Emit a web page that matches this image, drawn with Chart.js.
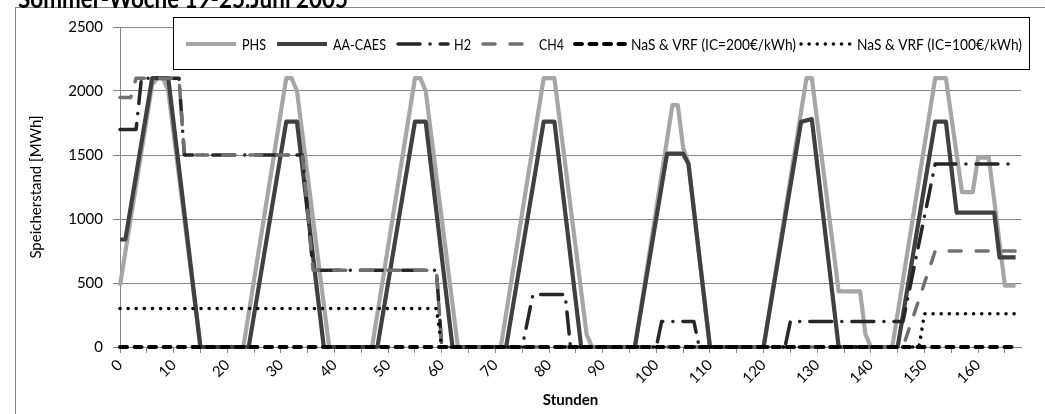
<!DOCTYPE html>
<html>
<head>
<meta charset="utf-8">
<script src="https://cdn.jsdelivr.net/npm/chart.js@4.4.1/dist/chart.umd.min.js"></script>
<style>
  html, body { margin: 0; padding: 0; background: #fff; overflow: hidden; }
</style>
</head>
<body>
<canvas id="chart" width="1045" height="414"></canvas>
<script>
// Speicherstand [MWh] je Technologie, als Stützstellen (Stunde -> Wert)
const seriesNames = ["PHS", "AA-CAES", "H2", "CH4", "NaS & VRF (IC=200€/kWh)", "NaS & VRF (IC=100€/kWh)"];

const phsHours  = [0, 6, 7, 8, 9, 15, 23, 31, 32, 33, 39, 47, 55, 56, 57, 63, 71, 79, 81, 87, 88, 96, 103, 104, 105, 106, 110, 120, 128, 129, 134, 138, 139, 140, 144, 152, 154, 157, 159, 160, 162, 165, 167];
const phsValues = [480, 2050, 2100, 2100, 2000, 0, 0, 2100, 2100, 2000, 0, 0, 2100, 2100, 2000, 0, 0, 2100, 2100, 100, 0, 0, 1890, 1890, 1560, 1430, 0, 0, 2100, 2100, 435, 435, 100, 0, 0, 2100, 2100, 1210, 1210, 1480, 1480, 480, 480];

const caesHours  = [0, 1, 6, 9, 15, 24, 31, 33, 38, 48, 55, 57, 62, 72, 79, 81, 86, 96, 102, 105, 106, 110, 120, 127, 129, 134, 145, 152, 154, 156, 163, 164, 167];
const caesValues = [840, 840, 2100, 2100, 0, 0, 1760, 1760, 0, 0, 1760, 1760, 0, 0, 1760, 1760, 0, 0, 1510, 1510, 1430, 0, 0, 1760, 1780, 0, 0, 1760, 1760, 1050, 1050, 700, 700];

const h2Hours  = [0, 3, 4, 11, 12, 34, 36, 59, 60, 75, 77, 83, 84, 100, 101, 107, 108, 124, 125, 146, 152, 167];
const h2Values = [1700, 1700, 2100, 2100, 1500, 1500, 600, 600, 0, 0, 410, 410, 0, 0, 200, 200, 0, 0, 200, 200, 1430, 1430];

const ch4Hours  = [0, 2, 3, 11, 12, 34, 36, 59, 60, 146, 152, 167];
const ch4Values = [1950, 1950, 2100, 2100, 1500, 1500, 600, 600, 0, 0, 750, 750];

const nas200Hours  = [0, 167];
const nas200Values = [0, 0];

const nas100Hours  = [0, 59, 60, 149, 150, 167];
const nas100Values = [300, 300, 0, 0, 260, 260];

const yTicks = [0, 500, 1000, 1500, 2000, 2500];

const toPoints = (hours, values) => hours.map((h, i) => ({ x: h, y: values[i] }));

const lineBase = { pointRadius: 0, tension: 0, fill: false, borderJoinStyle: "round", clip: 8 };

const datasets = [
  { ...lineBase, label: seriesNames[0], data: toPoints(phsHours, phsValues),
    borderColor: "#a6a6a6", borderWidth: 4.2, order: 6 },
  { ...lineBase, label: seriesNames[1], data: toPoints(caesHours, caesValues),
    borderColor: "#404040", borderWidth: 4.2, order: 5 },
  { ...lineBase, label: seriesNames[2], data: toPoints(h2Hours, h2Values),
    borderColor: "#262626", borderWidth: 3.5, borderCapStyle: "round", borderDash: [22, 10, 0.1, 10], order: 4 },
  { ...lineBase, label: seriesNames[3], data: toPoints(ch4Hours, ch4Values),
    borderColor: "#707070", borderWidth: 3.5, borderCapStyle: "round", borderDash: [12, 15], order: 3 },
  { ...lineBase, label: seriesNames[4], data: toPoints(nas200Hours, nas200Values),
    borderColor: "#000000", borderWidth: 4, borderCapStyle: "round", borderDash: [7, 7.5], order: 2 },
  { ...lineBase, label: seriesNames[5], data: toPoints(nas100Hours, nas100Values),
    borderColor: "#000000", borderWidth: 3.5, borderCapStyle: "round", borderDash: [0.1, 8], order: 1 },
];

// white page, outer frame and the (partly cut) heading
const frame = {
  id: "frame",
  beforeDraw(chart) {
    const { ctx } = chart;
    ctx.save();
    ctx.fillStyle = "#fff";
    ctx.fillRect(0, 0, chart.width, chart.height);
    ctx.strokeStyle = "#868686";
    ctx.lineWidth = 1;
    ctx.strokeRect(15.5, 7.5, 1200, 600);
    ctx.fillStyle = "#000";
    ctx.font = "bold 27px Lato";
    ctx.textBaseline = "alphabetic";
    ctx.fillText("Sommer-Woche 19-25.Juni 2005", 18, 8, 330);
    ctx.restore();
  },
};

// boxed legend inside the plot, one row
const legendBox = {
  id: "legendBox",
  afterDatasetsDraw(chart, args, opts) {
    const { ctx } = chart;
    ctx.save();
    ctx.fillStyle = "#fff";
    ctx.fillRect(opts.left, opts.top, opts.right - opts.left, opts.bottom - opts.top);
    ctx.strokeStyle = "#000";
    ctx.lineWidth = 1;
    ctx.strokeRect(opts.left + 0.5, opts.top + 0.5, opts.right - opts.left, opts.bottom - opts.top);

    chart.data.datasets.forEach((ds, i) => {
      const x = opts.x[i];
      const w = opts.sample;
      ctx.save();
      ctx.strokeStyle = ds.borderColor;
      ctx.lineWidth = ds.borderWidth;
      ctx.lineCap = ds.borderCapStyle || "butt";
      ctx.setLineDash(ds.borderDash || []);
      ctx.beginPath();
      ctx.moveTo(x, opts.y);
      ctx.lineTo(x + w, opts.y);
      ctx.stroke();
      ctx.restore();

      ctx.fillStyle = "#000";
      ctx.font = opts.font;
      ctx.textBaseline = "middle";
      ctx.fillText(ds.label, x + w + 6, opts.y + 1, opts.textWidth[i]);
    });
    ctx.restore();
  },
};

const ctx = document.getElementById("chart");

new Chart(ctx, {
  type: "line",
  data: { datasets },
  options: {
    responsive: false,
    animation: false,
    devicePixelRatio: 1,
    layout: {
      padding: { left: 0, right: 24, top: 27, bottom: 0 },
    },
    plugins: {
      legend: { display: false },
      tooltip: { enabled: false },
      legendBox: {
        left: 173, right: 1029, top: 17, bottom: 69, y: 44,
        x: [186, 277, 398, 483, 575, 801],
        sample: 50,
        textWidth: [24, 53, 17, 25, 165, 165],
        font: "15px Lato",
      },
    },
    scales: {
      x: {
        type: "linear",
        min: 0,
        max: 168,
        afterFit(scale) { scale.height = 67; },
        border: { color: "#868686" },
        grid: {
          drawOnChartArea: false,
          color: "#868686",
          tickLength: 6,
        },
        ticks: {
          stepSize: 5,
          autoSkip: false,
          includeBounds: false,
          minRotation: 45,
          maxRotation: 45,
          padding: 3,
          color: "#000",
          font: { family: "Lato", size: 15 },
          callback: (v) => (v % 10 === 0 ? String(v) : ""),
        },
        title: {
          display: true,
          text: "Stunden",
          color: "#000",
          font: { family: "Lato", size: 15, weight: "bold" },
          padding: { top: 0, bottom: 5 },
        },
      },
      y: {
        min: 0,
        max: 2500,
        afterFit(scale) { scale.width = 120; },
        afterBuildTicks(scale) { scale.ticks = yTicks.map((v) => ({ value: v })); },
        border: { color: "#868686" },
        grid: { color: "#868686", tickLength: 7 },
        ticks: {
          padding: 10,
          color: "#000",
          font: { family: "Lato", size: 15 },
          callback: (v) => String(v),
        },
        title: {
          display: true,
          text: "Speicherstand [MWh]",
          color: "#000",
          font: { family: "Lato", size: 15 },
          padding: { top: 27, bottom: 0 },
        },
      },
    },
  },
  plugins: [frame, legendBox],
});
</script>
</body>
</html>
